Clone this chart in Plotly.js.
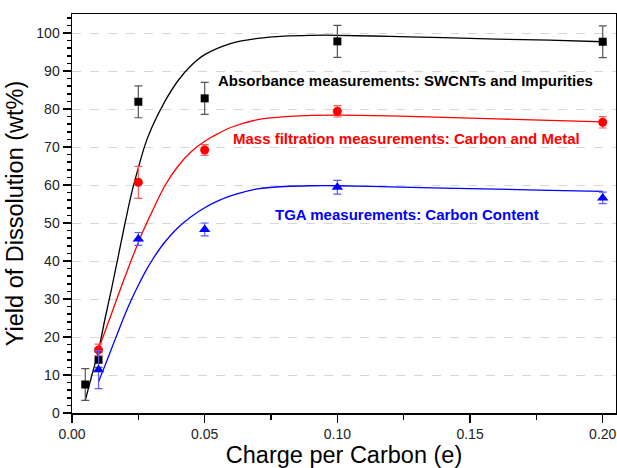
<!DOCTYPE html>
<html>
<head>
<meta charset="utf-8">
<script src="https://cdn.plot.ly/plotly-3.0.1.min.js"></script>
<style>html,body{margin:0;padding:0;background:#fff;}#chart{width:617px;height:468px;}</style>
</head>
<body>
<div id="chart"></div>
<script>
// Measured points
const chargeAbs = [0.005, 0.01, 0.025, 0.05, 0.10, 0.20];
const yieldAbs = [7.5, 14.0, 81.9, 82.8, 97.8, 97.7];
const errAbs = [4.2, 2.0, 4.2, 4.2, 4.2, 4.2];

const chargeMass = [0.01, 0.025, 0.05, 0.10, 0.20];
const yieldMass = [16.6, 60.7, 69.2, 79.4, 76.5];
const errMass = [1.5, 4.2, 1.4, 1.5, 1.5];

const chargeTGA = [0.01, 0.025, 0.05, 0.10, 0.20];
const yieldTGA = [11.4, 45.8, 48.3, 59.4, 56.6];
const errTGA = [5.0, 1.7, 1.7, 1.8, 1.5];

// Fitted curves
const fitAbsX = [0.005, 0.0075, 0.01, 0.0125, 0.015, 0.0175, 0.02, 0.0225, 0.025, 0.0275, 0.03, 0.035, 0.04, 0.045, 0.05, 0.06, 0.07, 0.08, 0.09, 0.10, 0.12, 0.14, 0.16, 0.18, 0.20];
const fitAbsY = [3.3, 10.0, 16.5, 25.0, 33.0, 41.5, 50.0, 58.0, 64.5, 70.5, 75.0, 82.0, 87.5, 91.5, 94.3, 97.3, 98.6, 99.2, 99.4, 99.4, 99.1, 98.8, 98.4, 98.1, 97.7];

const fitMassX = [0.01, 0.0125, 0.015, 0.0175, 0.02, 0.0225, 0.025, 0.0275, 0.03, 0.035, 0.04, 0.045, 0.05, 0.055, 0.06, 0.07, 0.08, 0.09, 0.10, 0.12, 0.14, 0.16, 0.18, 0.20];
const fitMassY = [16.8, 21.6, 26.3, 31.2, 35.9, 40.5, 44.9, 49.0, 52.7, 59.8, 65.0, 68.8, 71.5, 73.5, 75.2, 77.2, 78.0, 78.3, 78.4, 78.2, 77.8, 77.4, 77.0, 76.6];

const fitTGAX = [0.01, 0.0125, 0.015, 0.0175, 0.02, 0.0225, 0.025, 0.0275, 0.03, 0.035, 0.04, 0.045, 0.05, 0.055, 0.06, 0.07, 0.08, 0.09, 0.10, 0.12, 0.14, 0.16, 0.18, 0.20];
const fitTGAY = [8.2, 12.6, 17.1, 21.6, 26.0, 30.0, 33.6, 37.0, 40.0, 45.0, 48.8, 51.7, 54.0, 55.8, 57.2, 59.0, 59.6, 59.8, 59.8, 59.5, 59.2, 58.9, 58.6, 58.3];

const labelAbs = 'Absorbance measurements: SWCNTs and Impurities';
const labelMass = 'Mass filtration measurements: Carbon and Metal';
const labelTGA = 'TGA measurements: Carbon Content';

const FONT = 'Arial, "Liberation Sans", sans-serif';

const fitLine = (x, y, c) => ({x: x, y: y, type: 'scatter', mode: 'lines', line: {color: c, width: 1.3, shape: 'spline', smoothing: 1}, hoverinfo: 'skip'});
const pts = (x, y, e, c, ec, sym, sz) => ({x: x, y: y, type: 'scatter', mode: 'markers',
  marker: {color: c, symbol: sym, size: sz},
  error_y: {type: 'data', array: e, visible: true, color: ec, thickness: 1.2, width: 4}});

const data = [
  fitLine(fitAbsX, fitAbsY, '#000000'),
  fitLine(fitMassX, fitMassY, '#ff0000'),
  fitLine(fitTGAX, fitTGAY, '#0000ff'),
  pts(chargeAbs, yieldAbs, errAbs, '#000000', '#555555', 'square', 8),
  pts(chargeMass, yieldMass, errMass, '#ff0000', '#ff5a5a', 'circle', 9),
  pts(chargeTGA, yieldTGA, errTGA, '#0000ff', '#5a5aff', 'triangle-up', 10)
];

const xr = [0, 0.205], yr = [0, 105];
const layout = {
  width: 617, height: 468,
  margin: {l: 72, r: 1, t: 14, b: 55},
  paper_bgcolor: '#ffffff', plot_bgcolor: '#ffffff',
  showlegend: false,
  font: {family: FONT, color: '#000'},
  xaxis: {
    range: xr, tick0: 0, dtick: 0.05, tickformat: '.2f',
    ticks: 'outside', ticklen: 8, tickwidth: 1.5, tickcolor: '#000',
    minor: {dtick: 0.025, ticks: 'outside', ticklen: 5, tickwidth: 1.5, tickcolor: '#000', showgrid: false},
    showline: true, linewidth: 1.5, linecolor: '#000', mirror: true,
    showgrid: false, zeroline: false,
    tickfont: {size: 14, color: '#222'},
    title: {text: 'Charge per Carbon (e)', font: {size: 23.5, color: '#000'}, standoff: 4}
  },
  xaxis2: {
    overlaying: 'x', side: 'top', range: xr, tick0: 0, dtick: 0.05,
    ticks: 'inside', ticklen: 8, tickwidth: 1.5, tickcolor: '#000',
    minor: {dtick: 0.025, ticks: 'inside', ticklen: 4, tickwidth: 1.5, tickcolor: '#000'},
    showticklabels: false, showgrid: false, zeroline: false, showline: false
  },
  yaxis: {
    range: yr, tick0: 0, dtick: 10,
    ticks: 'outside', ticklen: 8, tickwidth: 1.5, tickcolor: '#000',
    minor: {dtick: 2, ticks: 'outside', ticklen: 4, tickwidth: 1.5, tickcolor: '#000', showgrid: false},
    showline: true, linewidth: 1.5, linecolor: '#000', mirror: true,
    showgrid: true, gridcolor: '#d6d6d6', griddash: 'dash', gridwidth: 1,
    zeroline: false,
    tickfont: {size: 14, color: '#222'},
    title: {text: 'Yield of Dissolution (wt%)', font: {size: 23.5, color: '#000'}, standoff: 6}
  },
  yaxis2: {
    overlaying: 'y', side: 'right', range: yr, tick0: 0, dtick: 10,
    ticks: 'inside', ticklen: 8, tickwidth: 1.5, tickcolor: '#000',
    minor: {dtick: 2, ticks: 'inside', ticklen: 4, tickwidth: 1.5, tickcolor: '#000'},
    showticklabels: false, showgrid: false, zeroline: false, showline: false
  },
  annotations: [
    {text: labelAbs, x: 0.0543, y: 87.6, xref: 'x', yref: 'y', xanchor: 'left', yanchor: 'middle', showarrow: false,
     font: {size: 15, color: '#000000', family: FONT, weight: 'bold'}},
    {text: labelMass, x: 0.0598, y: 72.3, xref: 'x', yref: 'y', xanchor: 'left', yanchor: 'middle', showarrow: false,
     font: {size: 15, color: '#ff0000', family: FONT, weight: 'bold'}},
    {text: labelTGA, x: 0.0758, y: 52.3, xref: 'x', yref: 'y', xanchor: 'left', yanchor: 'middle', showarrow: false,
     font: {size: 15, color: '#0000ff', family: FONT, weight: 'bold'}}
  ]
};

Plotly.newPlot('chart', data, layout, {staticPlot: true, displayModeBar: false});
</script>
</body>
</html>
